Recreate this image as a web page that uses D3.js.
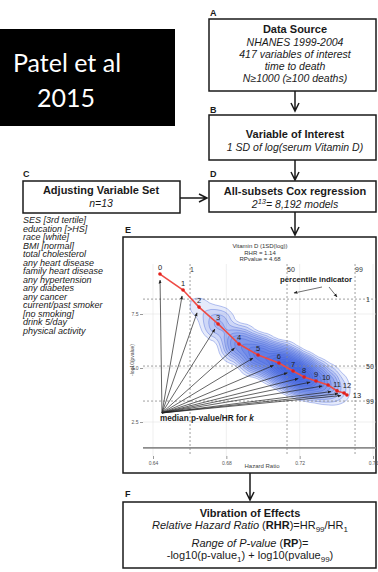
<!DOCTYPE html>
<html><head><meta charset="utf-8">
<script src="https://cdn.jsdelivr.net/npm/d3@7"></script>
<style>html,body{margin:0;padding:0;background:#fff;}svg{display:block;}</style>
</head><body>
<svg id="c" width="378" height="572"></svg>
<script>
// ---------- data ----------
const kLabels = ["0","1","2","3","4","5","6","7","8","9","10","11","12","13"];
const medianHR = [0.6438,0.6564,0.6651,0.6755,0.6869,0.6973,0.7087,0.7164,0.7224,0.7289,0.7355,0.7404,0.7442,0.7458];
const medianP  = [9.35,8.61,7.82,7.04,6.11,5.60,5.23,4.86,4.58,4.40,4.21,3.94,3.84,3.75];
const modelCounts = [1,13,78,286,715,1287,1716,1716,1287,715,286,78,13,1];
const percentileLabels = ["1","50","99"];
const percentileHR = [0.6602,0.7131,0.7502];
const percentileP  = [8.19,5.09,3.47];
const xTicks = [0.64,0.68,0.72,0.76];
const yTicks = [2.5,5.0,7.5];
const sigP = 1.3;
const anchorHR = 0.6449, anchorP = 2.92;
const adjustVars = ["SES [3rd tertile]","education [>HS]","race [white]","BMI [normal]","total cholesterol","any heart disease","family heart disease","any hypertension","any diabetes","any cancer","current/past smoker","[no smoking]","drink 5/day","physical activity"];
const boxAText = ["NHANES 1999-2004","417 variables of interest","time to death","N\u22651000 (\u2265100 deaths)"];
const plotTitle = ["Vitamin D (1SD(log))","RHR = 1.14","RPvalue = 4.68"];

// ---------- drawing ----------
const svg = d3.select("#c");
const F = "'Liberation Sans', Arial, sans-serif";
const ink = "#1a1a1a";

// black title box
svg.append("rect").attr("x",0).attr("y",29).attr("width",175).attr("height",97).attr("fill","#000");
svg.append("text").attr("x",67).attr("y",72).attr("text-anchor","middle").attr("fill","#fff")
  .style("font-family","Lato, 'Open Sans', sans-serif").style("font-size","25px").text("Patel et al");
svg.append("text").attr("x",66).attr("y",107).attr("text-anchor","middle").attr("fill","#fff")
  .style("font-family","Lato, 'Open Sans', sans-serif").style("font-size","25px").text("2015");

function box(x,y,w,h){svg.append("rect").attr("x",x).attr("y",y).attr("width",w).attr("height",h)
  .attr("fill","#fff").attr("stroke",ink).attr("stroke-width",1.5);}
function letter(x,y,t){svg.append("text").attr("x",x).attr("y",y).style("font-family",F)
  .style("font-size","9px").style("font-weight","bold").attr("fill",ink).text(t);}
function txt(x,y,t,size,opts={}){return svg.append("text").attr("x",x).attr("y",y).attr("text-anchor",opts.anchor||"middle")
  .style("font-family",F).style("font-size",size+"px").style("font-weight",opts.bold?"bold":"normal")
  .style("font-style",opts.italic?"italic":"normal").attr("fill",opts.fill||ink).text(t);}
function arrowV(x,y1,y2){svg.append("path").attr("d",`M${x},${y1}L${x},${y2}M${x-4},${y2-8}L${x},${y2}L${x+4},${y2-8}`)
  .attr("fill","none").attr("stroke",ink).attr("stroke-width",1.5);}
function arrowH(y,x1,x2){svg.append("path").attr("d",`M${x1},${y}L${x2},${y}M${x2-8},${y-4}L${x2},${y}L${x2-8},${y+4}`)
  .attr("fill","none").attr("stroke",ink).attr("stroke-width",1.5);}

const cx = 295;
// A
letter(210,16,"A"); box(209,19,167,72);
txt(cx,33,"Data Source",11,{bold:true});
boxAText.forEach((t,i)=>txt(cx,45.5+i*12,t,10.5,{italic:true}));
arrowV(cx,91,111);
// B
letter(210,113,"B"); box(209,115,167,45);
txt(cx,138,"Variable of Interest",11,{bold:true});
txt(cx,151,"1 SD of log(serum Vitamin D)",10.5,{italic:true});
arrowV(cx,160,180);
// C
letter(23,177,"C"); box(23,181,157,32);
txt(101,194,"Adjusting Variable Set",11,{bold:true});
txt(101,207,"n=13",10.5,{italic:true});
adjustVars.forEach((t,i)=>txt(23,223+i*8.5,t,9,{italic:true,anchor:"start"}));
arrowH(198,180,207);
// D
letter(210,177,"D"); box(209,181,167,31);
txt(cx,195,"All-subsets Cox regression",11,{bold:true});
{const t=txt(cx,208,"",10.5,{italic:true});
 t.append("tspan").text("2");
 t.append("tspan").attr("dy",-4).style("font-size","7.5px").text("13");
 t.append("tspan").attr("dy",4).text("= 8,192 models");}
arrowV(cx,212,235);
// E
letter(125,233,"E"); box(123,237,253,236);
arrowV(250,473,500);
// F
letter(125,497,"F"); box(123,502,253,66);
txt(250,517,"Vibration of Effects",11,{bold:true});
{const t=txt(250,529,"",11);
 t.append("tspan").style("font-style","italic").text("Relative Hazard Ratio");
 t.append("tspan").text(" (");
 t.append("tspan").style("font-weight","bold").text("RHR");
 t.append("tspan").text(")=HR");
 t.append("tspan").attr("dy",3).style("font-size","8px").text("99");
 t.append("tspan").attr("dy",-3).text("/HR");
 t.append("tspan").attr("dy",3).style("font-size","8px").text("1");}
{const t=txt(250,547,"",11);
 t.append("tspan").style("font-style","italic").text("Range of P-value");
 t.append("tspan").text(" (");
 t.append("tspan").style("font-weight","bold").text("RP");
 t.append("tspan").text(")=");}
{const t=txt(250,559,"",11);
 t.append("tspan").text("-log10(p-value");
 t.append("tspan").attr("dy",3).style("font-size","8px").text("1");
 t.append("tspan").attr("dy",-3).text(") + log10(pvalue");
 t.append("tspan").attr("dy",3).style("font-size","8px").text("99");
 t.append("tspan").attr("dy",-3).text(")");}

// ---------- plot in E ----------
const px0=143, px1=376, py0=264, py1=456;
const x = d3.scaleLinear().domain([0.64,0.76]).range([153,373]);
const y = d3.scaleLinear().domain([2.5,7.5]).range([422,314]);

plotTitle.forEach((t,i)=>txt(260,248+i*6.5,t,6,{fill:"#333"}));

const defs = svg.append("defs");
defs.append("clipPath").attr("id","pc").append("rect").attr("x",px0).attr("y",py0).attr("width",px1-px0).attr("height",py1-py0);
defs.append("marker").attr("id","ah").attr("viewBox","0 0 10 10").attr("refX",9).attr("refY",5)
  .attr("markerWidth",5.5).attr("markerHeight",5.5).attr("orient","auto")
  .append("path").attr("d","M0,1L10,5L0,9z").attr("fill","#222");

const g = svg.append("g").attr("clip-path","url(#pc)");
// grid
g.selectAll(".gx").data(xTicks).enter().append("line").attr("x1",d=>x(d)).attr("x2",d=>x(d))
  .attr("y1",py0).attr("y2",py1).attr("stroke","#e4e4e4").attr("stroke-width",0.6);
g.selectAll(".gy").data(yTicks).enter().append("line").attr("y1",d=>y(d)).attr("y2",d=>y(d))
  .attr("x1",px0).attr("x2",px1).attr("stroke","#e4e4e4").attr("stroke-width",0.6);

// density contours of all models, weighted by number of models per k
const pts = kLabels.map((k,i)=>({hr:medianHR[i],p:medianP[i],w:modelCounts[i]}));
const bw = 8.5;
const dens0 = d3.contourDensity().x(d=>x(d.hr)).y(d=>y(d.p)).weight(d=>d.w)
  .size([378,572]).cellSize(2).bandwidth(bw).thresholds(60)(pts);
const maxV = d3.max(dens0,d=>d.value);
const fr = [0.02,0.04,0.07,0.1,0.14,0.19,0.25,0.32,0.4,0.48,0.56,0.65,0.74,0.83,0.92];
const dens = d3.contourDensity().x(d=>x(d.hr)).y(d=>y(d.p)).weight(d=>d.w)
  .size([378,572]).cellSize(2).bandwidth(bw).thresholds(fr.map(f=>f*maxV))(pts);
g.selectAll(".ct").data(dens).enter().append("path").attr("d",d3.geoPath())
  .attr("fill","#2a50dc").attr("fill-opacity",0.12).attr("stroke","#3d5fd8").attr("stroke-opacity",0.75).attr("stroke-width",0.5);

// significance line
g.append("line").attr("x1",px0).attr("x2",px1).attr("y1",y(sigP)).attr("y2",y(sigP)).attr("stroke","#8c8c8c").attr("stroke-width",1.6);

// percentile lines
percentileHR.forEach((h,i)=>{
  g.append("line").attr("x1",x(h)).attr("x2",x(h)).attr("y1",py0).attr("y2",py1)
   .attr("stroke","#888").attr("stroke-width",0.8).attr("stroke-dasharray","2,2");
  g.append("line").attr("y1",y(percentileP[i])).attr("y2",y(percentileP[i])).attr("x1",px0).attr("x2",px1)
   .attr("stroke","#888").attr("stroke-width",0.8).attr("stroke-dasharray","2,2");
  g.append("text").attr("x",x(h)).attr("y",py0+8).style("font-family",F).style("font-size","7px").attr("fill","#333").text(percentileLabels[i]);
  g.append("text").attr("x",366).attr("y",y(percentileP[i])+2.5).style("font-family",F).style("font-size","7px").attr("fill","#333").text(percentileLabels[i]);
});

// arrows from median anchor
const ax=x(anchorHR), ay=y(anchorP);
pts.forEach(d=>{
  const tx=x(d.hr), ty=y(d.p), dx=tx-ax, dy=ty-ay, L=Math.hypot(dx,dy), s=(L-6)/L;
  g.append("line").attr("x1",ax).attr("y1",ay).attr("x2",ax+dx*s).attr("y2",ay+dy*s)
   .attr("stroke","#222").attr("stroke-width",0.7).attr("marker-end","url(#ah)");
});

// median line and points
g.append("path").datum(pts).attr("d",d3.line().x(d=>x(d.hr)).y(d=>y(d.p)))
  .attr("fill","none").attr("stroke","#ee4b45").attr("stroke-width",1.6);
g.selectAll(".pt").data(pts).enter().append("circle").attr("cx",d=>x(d.hr)).attr("cy",d=>y(d.p)).attr("r",1.8).attr("fill","#e3201b");
const lblDx = i => i===10 ? -2 : (i===11 ? 0 : (i===12 ? 3 : (i===13 ? 10 : 0)));
const lblDy = i => i===13 ? 2.5 : (i===12 ? -5 : (i===10 ? -5 : -4));
g.selectAll(".lb").data(pts).enter().append("text").attr("x",(d,i)=>x(d.hr)+lblDx(i)).attr("y",(d,i)=>y(d.p)+lblDy(i))
  .attr("text-anchor","middle").style("font-family",F).style("font-size","7.5px").attr("fill","#222").text((d,i)=>kLabels[i]);

// annotations
svg.append("text").attr("x",ax-2).attr("y",ay+8).style("font-family",F).style("font-size","8.2px").style("font-weight","bold").attr("fill","#222")
  .text("median p-value/HR for ").append("tspan").style("font-style","italic").text("k");
svg.append("text").attr("x",280).attr("y",282).style("font-family",F).style("font-size","7.8px").style("font-weight","bold").attr("fill","#222").text("percentile indicator");
svg.append("line").attr("x1",322).attr("y1",287).attr("x2",294).attr("y2",293).attr("stroke","#333").attr("stroke-width",0.7).attr("marker-end","url(#ah)");
svg.append("line").attr("x1",329).attr("y1",287).attr("x2",337).attr("y2",297).attr("stroke","#333").attr("stroke-width",0.7).attr("marker-end","url(#ah)");

// axes
const xa = svg.append("g").attr("transform",`translate(0,${py1})`)
  .call(d3.axisBottom(x).tickValues(xTicks).tickFormat(d3.format(".2f")).tickSize(3).tickPadding(2));
const ya = svg.append("g").attr("transform",`translate(${px0},0)`)
  .call(d3.axisLeft(y).tickValues(yTicks).tickFormat(d3.format(".1f")).tickSize(3).tickPadding(1.5));
[xa,ya].forEach(a=>{a.select(".domain").remove();a.selectAll("line").attr("stroke","#555").attr("stroke-width",0.6);
  a.selectAll("text").style("font-family",F).style("font-size","5px").attr("fill","#555");});
txt(262,468,"Hazard Ratio",6,{fill:"#444"});
svg.append("text").attr("transform",`translate(134,${(py0+py1)/2}) rotate(-90)`).attr("text-anchor","middle")
  .style("font-family",F).style("font-size","5px").attr("fill","#444").text("-log10(pvalue)");
</script>
</body></html>
